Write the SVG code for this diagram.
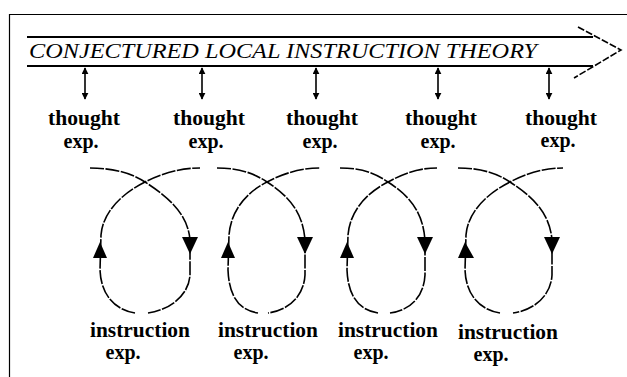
<svg xmlns="http://www.w3.org/2000/svg" width="627" height="377" viewBox="0 0 627 377">
<style>
.frame{fill:none;stroke:#000;stroke-width:1.2}
.bar{fill:none;stroke:#000;stroke-width:2}
.head{fill:none;stroke:#000;stroke-width:1.6;stroke-dasharray:7 2}
.vl{fill:none;stroke:#000;stroke-width:1.6}
.loop{fill:none;stroke:#000;stroke-width:1.6;stroke-dasharray:14 1.5}
.tri{fill:#000}
.title{font-family:"Liberation Serif","Times New Roman",serif;font-style:italic;font-size:21px;fill:#000}
.lbl{font-family:"Liberation Serif","Times New Roman",serif;font-weight:bold;font-size:20px;fill:#000;text-anchor:middle}
</style>
<defs>
<marker id="ah" viewBox="0 0 10 10" refX="9" refY="5" markerWidth="7" markerHeight="7" markerUnits="userSpaceOnUse" orient="auto-start-reverse">
<path d="M0,0 L10,5 L0,10 Z" fill="#000"/>
</marker>
</defs>
<rect x="0" y="0" width="627" height="377" fill="#fff"/>
<path class="frame" d="M9.5,377 L9.5,14.5 L627,14.5"/>
<g id="theory">
<line class="bar" x1="27" y1="37" x2="593" y2="37"/>
<line class="bar" x1="27" y1="66" x2="593" y2="66"/>
<path class="head" d="M578,27 L621,50 L574,78"/>
<text class="title" x="29" y="58" textLength="508" lengthAdjust="spacingAndGlyphs">CONJECTURED LOCAL INSTRUCTION THEORY</text>
</g>
<g id="connectors">
<line class="vl" x1="85" y1="68" x2="85" y2="99" marker-start="url(#ah)" marker-end="url(#ah)"/>
<line class="vl" x1="202" y1="68" x2="202" y2="99" marker-start="url(#ah)" marker-end="url(#ah)"/>
<line class="vl" x1="316" y1="68" x2="316" y2="99" marker-start="url(#ah)" marker-end="url(#ah)"/>
<line class="vl" x1="438" y1="68" x2="438" y2="99" marker-start="url(#ah)" marker-end="url(#ah)"/>
<line class="vl" x1="549" y1="68" x2="549" y2="99" marker-start="url(#ah)" marker-end="url(#ah)"/>
<g id="loop1">
<path class="loop" d="M90,168 C110,168 130,172 145,182 C170,198 188,215 190,240 L190,275 C189,295 170,310 148,313"/>
<path class="loop" d="M135,313 C115,310 101,295 100,270 L101,235 C103,210 125,192 145,182 C160,174 180,168 200,168"/>
<polygon class="tri" points="182,237 198,237 190,254"/>
<polygon class="tri" points="100,242 93,258 107,258"/>
</g>
<g id="loop2">
<path class="loop" d="M217,168 C237,168 252,172 267,182 C292,198 303,215 305,240 L305,275 C304,295 290,310 268,313"/>
<path class="loop" d="M258,313 C238,310 229,295 228,270 L229,235 C231,210 247,192 267,182 C282,174 300,168 320,168"/>
<polygon class="tri" points="297,237 313,237 305,254"/>
<polygon class="tri" points="228,242 221,258 235,258"/>
</g>
<g id="loop3">
<path class="loop" d="M340,168 C360,168 373,172 388,182 C413,198 423,215 425,240 L425,275 C424,295 412,310 390,313"/>
<path class="loop" d="M378,313 C358,310 348,295 347,270 L348,235 C350,210 368,192 388,182 C403,174 417,168 437,168"/>
<polygon class="tri" points="417,237 433,237 425,254"/>
<polygon class="tri" points="347,242 340,258 354,258"/>
</g>
<g id="loop4">
<path class="loop" d="M458,168 C478,168 495,172 510,182 C535,198 550,215 552,240 L552,275 C551,295 535,310 513,313"/>
<path class="loop" d="M500,313 C480,310 466,295 465,270 L466,235 C468,210 490,192 510,182 C525,174 543,168 563,168"/>
<polygon class="tri" points="544,237 560,237 552,254"/>
<polygon class="tri" points="465,242 458,258 474,258"/>
</g>
</g>
<g id="thought1"><text class="lbl" x="84" y="125" textLength="72" lengthAdjust="spacingAndGlyphs">thought</text><text class="lbl" x="81" y="148">exp.</text></g>
<g id="thought2"><text class="lbl" x="209" y="125" textLength="72" lengthAdjust="spacingAndGlyphs">thought</text><text class="lbl" x="206" y="148">exp.</text></g>
<g id="thought3"><text class="lbl" x="322" y="125" textLength="72" lengthAdjust="spacingAndGlyphs">thought</text><text class="lbl" x="320" y="148">exp.</text></g>
<g id="thought4"><text class="lbl" x="441" y="125" textLength="72" lengthAdjust="spacingAndGlyphs">thought</text><text class="lbl" x="438" y="148">exp.</text></g>
<g id="thought5"><text class="lbl" x="561" y="125" textLength="72" lengthAdjust="spacingAndGlyphs">thought</text><text class="lbl" x="558" y="147">exp.</text></g>
<g id="instr1"><text class="lbl" x="140" y="337" textLength="100" lengthAdjust="spacingAndGlyphs">instruction</text><text class="lbl" x="123" y="359">exp.</text></g>
<g id="instr2"><text class="lbl" x="268" y="337" textLength="100" lengthAdjust="spacingAndGlyphs">instruction</text><text class="lbl" x="251" y="359">exp.</text></g>
<g id="instr3"><text class="lbl" x="388" y="337" textLength="100" lengthAdjust="spacingAndGlyphs">instruction</text><text class="lbl" x="371" y="359">exp.</text></g>
<g id="instr4"><text class="lbl" x="508" y="339" textLength="100" lengthAdjust="spacingAndGlyphs">instruction</text><text class="lbl" x="491" y="361">exp.</text></g>
</svg>
